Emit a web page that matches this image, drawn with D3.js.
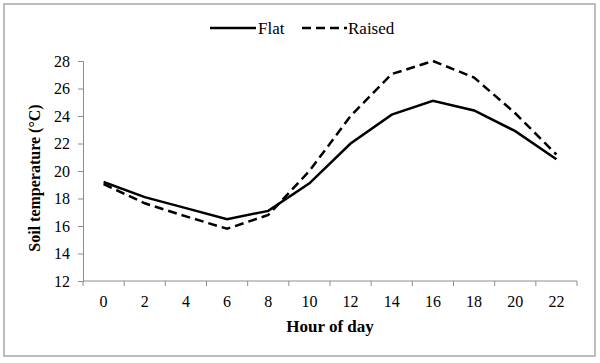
<!DOCTYPE html>
<html>
<head>
<meta charset="utf-8">
<script src="https://cdn.jsdelivr.net/npm/d3@7"></script>
<style>
    body { margin: 0; background: #fff; }
    svg { display: block; }
    svg text { font-family: "Liberation Serif", "Times New Roman", "DejaVu Serif", serif; }
</style>
</head>
<body>
<svg id="chart" width="600" height="363"></svg>
<script>
// Chart data
const hours = ["0", "2", "4", "6", "8", "10", "12", "14", "16", "18", "20", "22"];
const flat = [19.2, 18.1, 17.3, 16.5, 17.1, 19.1, 22.0, 24.1, 25.1, 24.4, 22.9, 20.85];
const raised = [19.05, 17.65, 16.7, 15.8, 16.8, 20.0, 24.0, 27.05, 28.0, 26.8, 24.2, 21.2];
const yTicks = [12, 14, 16, 18, 20, 22, 24, 26, 28];

const axisColor = "#8c8c8c";

const svg = d3.select("#chart");

// outer frame
svg.append("rect")
    .attr("x", 4).attr("y", 4)
    .attr("width", 591).attr("height", 352)
    .attr("fill", "none")
    .attr("stroke", "#bdbdbd")
    .attr("stroke-width", 2);

const plotLeft = 83, plotRight = 577, plotTop = 61, plotBottom = 281;

const x = d3.scaleBand().domain(hours).range([plotLeft, plotRight]);
const y = d3.scaleLinear().domain([12, 28]).range([plotBottom, plotTop]);

// y axis
const yAxis = svg.append("g")
    .attr("transform", `translate(${plotLeft},0)`)
    .call(d3.axisLeft(y).tickValues(yTicks).tickSize(5).tickPadding(8));
yAxis.attr("font-family", null);
yAxis.select(".domain").attr("stroke", axisColor);
yAxis.selectAll(".tick line").attr("stroke", axisColor);
yAxis.selectAll("text")
    .attr("font-size", 16)
    .attr("fill", "#000");

// x axis, ticks between categories
const xAxis = svg.append("g").attr("transform", `translate(0,${plotBottom})`);
xAxis.append("line")
    .attr("x1", plotLeft).attr("x2", plotRight)
    .attr("stroke", axisColor);
const edges = hours.map(h => x(h)).concat([plotRight]);
xAxis.selectAll(".edge")
    .data(edges)
    .join("line")
    .attr("class", "edge")
    .attr("x1", d => d).attr("x2", d => d)
    .attr("y1", 0).attr("y2", 5)
    .attr("stroke", axisColor);
xAxis.selectAll(".lab")
    .data(hours)
    .join("text")
    .attr("class", "lab")
    .attr("x", d => x(d) + x.bandwidth() / 2)
    .attr("y", 26)
    .attr("text-anchor", "middle")
    .attr("font-size", 16)
    .text(d => d);

// axis titles
svg.append("text")
    .attr("x", (plotLeft + plotRight) / 2)
    .attr("y", 332)
    .attr("text-anchor", "middle")
    .attr("font-size", 17)
    .attr("font-weight", "bold")
    .text("Hour of day");

svg.append("text")
    .attr("transform", "translate(40,178) rotate(-90)")
    .attr("text-anchor", "middle")
    .attr("font-size", 16)
    .attr("font-weight", "bold")
    .text("Soil temperature (°C)");

// lines
const line = d3.line()
    .x((d, i) => x(hours[i]) + x.bandwidth() / 2)
    .y(d => y(d));

const series = [
    { name: "Flat", values: flat, dash: null },
    { name: "Raised", values: raised, dash: "9,5" }
];

svg.selectAll(".series")
    .data(series)
    .join("path")
    .attr("class", "series")
    .attr("d", d => line(d.values))
    .attr("fill", "none")
    .attr("stroke", "#000")
    .attr("stroke-width", 2.5)
    .attr("stroke-dasharray", d => d.dash);

// legend
const legendPos = [{ x1: 210, x2: 256, tx: 258 }, { x1: 302, x2: 347, tx: 348 }];
const legend = svg.selectAll(".legend")
    .data(series)
    .join("g")
    .attr("class", "legend");
legend.append("line")
    .attr("x1", (d, i) => legendPos[i].x1)
    .attr("x2", (d, i) => legendPos[i].x2)
    .attr("y1", 28).attr("y2", 28)
    .attr("stroke", "#000")
    .attr("stroke-width", 2.5)
    .attr("stroke-dasharray", d => d.dash);
legend.append("text")
    .attr("x", (d, i) => legendPos[i].tx)
    .attr("y", 34)
    .attr("font-size", 17)
    .text(d => d.name);
</script>
</body>
</html>
